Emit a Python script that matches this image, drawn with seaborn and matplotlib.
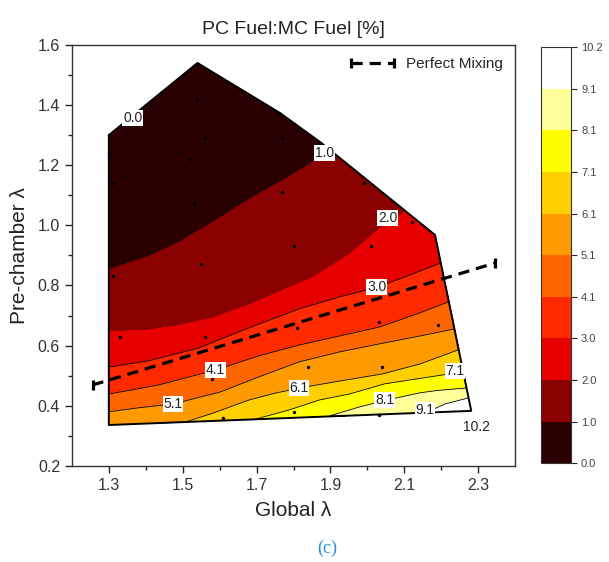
"""
PC Fuel:MC Fuel contour map over global / pre-chamber lambda
"""

import numpy as np
import matplotlib
matplotlib.use("Agg")
import matplotlib.pyplot as plt
import matplotlib.tri as mtri
from matplotlib.colors import ListedColormap, BoundaryNorm
import seaborn as sns

# contour levels and their printed labels
levels = [0.0, 1.0, 2.0, 3.0, 4.1, 5.1, 6.1, 7.1, 8.1, 9.1, 10.2]
level_labels = ["0.0", "1.0", "2.0", "3.0", "4.1", "5.1", "6.1", "7.1", "8.1", "9.1", "10.2"]
band_colors = ["#2b0000", "#8b0000", "#e60000", "#ff2a00", "#ff6600",
               "#ff9a00", "#ffcf00", "#ffff00", "#ffff99", "#ffffff"]

# outline of the measured region (global lambda, pre-chamber lambda, value)
edge_x = [1.30, 1.54, 1.763, 1.872, 2.183, 2.281, 1.30]
edge_y = [1.30, 1.54, 1.374, 1.277, 0.968, 0.383, 0.336]
edge_v = [0.0, 0.1, 0.5, 0.85, 2.45, 10.2, 5.6]

# contour crossings
c1_x = [1.300, 1.406, 1.488, 1.583, 1.679, 1.774, 1.850, 1.905]
c1_y = [0.852, 0.895, 0.942, 1.011, 1.085, 1.151, 1.208, 1.244]
c2_x = [1.300, 1.406, 1.488, 1.583, 1.679, 1.774, 1.850, 1.951, 2.055, 2.104]
c2_y = [0.646, 0.652, 0.666, 0.692, 0.735, 0.785, 0.825, 0.902, 1.011, 1.045]
c3_x = [1.300, 1.406, 1.543, 1.679, 1.815, 1.924, 2.028, 2.115, 2.199]
c3_y = [0.529, 0.549, 0.592, 0.659, 0.722, 0.762, 0.795, 0.835, 0.875]
c4_x = [1.300, 1.434, 1.589, 1.706, 1.815, 1.924, 2.033, 2.142, 2.218]
c4_y = [0.439, 0.469, 0.519, 0.566, 0.602, 0.632, 0.662, 0.709, 0.745]
c5_x = [1.300, 1.379, 1.474, 1.602, 1.706, 1.815, 1.924, 2.033, 2.142, 2.237]
c5_y = [0.380, 0.393, 0.406, 0.446, 0.496, 0.546, 0.579, 0.606, 0.632, 0.656]
c6_x = [1.507, 1.583, 1.679, 1.815, 1.924, 2.041, 2.142, 2.246]
c6_y = [0.346, 0.376, 0.419, 0.459, 0.482, 0.506, 0.539, 0.586]
c7_x = [1.698, 1.788, 1.869, 2.047, 2.169, 2.259]
c7_y = [0.356, 0.386, 0.419, 0.473, 0.496, 0.513]
c8_x = [1.897, 1.978, 2.052, 2.142, 2.267]
c8_y = [0.366, 0.396, 0.419, 0.443, 0.459]
c9_x = [2.156, 2.210, 2.273]
c9_y = [0.376, 0.406, 0.426]

# measurement points (black dots)
dot_x = [1.54, 1.56, 1.52, 1.53, 1.77, 1.99, 1.77, 2.12, 1.30, 1.31, 1.80, 2.01, 1.55,
         1.31, 1.33, 1.56, 1.81, 2.03, 2.19, 1.84, 2.04, 2.22, 1.58, 1.61, 1.80, 2.03]
dot_y = [1.42, 1.29, 1.22, 1.07, 1.29, 1.14, 1.11, 1.01, 1.24, 1.14, 0.93, 0.93, 0.87,
         0.83, 0.63, 0.63, 0.66, 0.68, 0.67, 0.53, 0.53, 0.53, 0.49, 0.36, 0.38, 0.37]

# perfect mixing line
mix_x = [1.256, 2.346]
mix_y = [0.469, 0.875]


def main():
    sns.set_theme(style="ticks")
    plt.rcParams["font.family"] = ["Liberation Sans", "DejaVu Sans"]

    crossings = [(c1_x, c1_y, 1.0), (c2_x, c2_y, 2.0), (c3_x, c3_y, 3.0), (c4_x, c4_y, 4.1),
                 (c5_x, c5_y, 5.1), (c6_x, c6_y, 6.1), (c7_x, c7_y, 7.1), (c8_x, c8_y, 8.1),
                 (c9_x, c9_y, 9.1)]
    px = list(edge_x)
    py = list(edge_y)
    pv = list(edge_v)
    for cx, cy, val in crossings:
        px += cx
        py += cy
        pv += [val] * len(cx)
    triang = mtri.Triangulation(px, py)

    cmap = ListedColormap(sns.color_palette(band_colors))
    norm = BoundaryNorm(levels, cmap.N)

    fig = plt.figure(figsize=(6.09, 5.62), dpi=100)
    ax = fig.add_axes([0.118, 0.171, 0.728, 0.749])
    cax = fig.add_axes([0.888, 0.176, 0.049, 0.740])

    cf = ax.tricontourf(triang, pv, levels=levels, cmap=cmap, norm=norm, zorder=1)
    ax.tricontour(triang, pv, levels=levels[3:-1], colors="black", linewidths=0.6, zorder=2)

    ax.plot(edge_x + [edge_x[0]], edge_y + [edge_y[0]], color="black", lw=1.4, zorder=3)
    sns.scatterplot(x=dot_x, y=dot_y, s=6, color="black", linewidth=0, ax=ax, zorder=4, legend=False)

    sns.lineplot(x=mix_x, y=mix_y, ax=ax, color="black", lw=2.3, dashes=False,
                 marker="|", markersize=7, markeredgewidth=2.3, markeredgecolor="black",
                 label="Perfect Mixing", zorder=5)
    ax.lines[-1].set_dashes((3.5, 2.2))

    # contour labels
    label_pos = [(1.365, 1.357), (1.883, 1.241), (2.055, 1.025), (2.025, 0.795), (1.589, 0.519),
                 (1.474, 0.406), (1.815, 0.459), (2.237, 0.516), (2.047, 0.419), (2.156, 0.386),
                 (2.295, 0.330)]
    for (lx, ly), txt in zip(label_pos, level_labels):
        ax.text(lx, ly, txt, fontsize=10, ha="center", va="center", color="#222222", zorder=6,
                bbox=dict(facecolor="white", edgecolor="none", pad=0.6))

    ax.set_xlim(1.2, 2.4)
    ax.set_ylim(0.2, 1.6)
    ax.set_xticks([1.3, 1.5, 1.7, 1.9, 2.1, 2.3])
    ax.set_xticks([1.4, 1.6, 1.8, 2.0, 2.2], minor=True)
    ax.set_yticks([0.2, 0.4, 0.6, 0.8, 1.0, 1.2, 1.4, 1.6])
    ax.set_yticks([0.3, 0.5, 0.7, 0.9, 1.1, 1.3, 1.5], minor=True)
    ax.yaxis.set_major_formatter(matplotlib.ticker.FormatStrFormatter("%.1f"))
    ax.tick_params(which="major", direction="out", length=5, width=1, labelsize=11.5,
                   labelcolor="#333333", top=False, right=False)
    ax.tick_params(which="minor", direction="out", length=3, width=1, top=False, right=False)
    for sp in ax.spines.values():
        sp.set_visible(True)
        sp.set_color("#333333")
        sp.set_linewidth(1.0)

    ax.set_xlabel("Global λ", fontsize=15, color="#222222", labelpad=6)
    ax.set_ylabel("Pre-chamber λ", fontsize=15, color="#222222", labelpad=6)
    ax.set_title("PC Fuel:MC Fuel [%]", fontsize=14, color="#222222", pad=8)

    ax.legend(loc="upper right", frameon=False, fontsize=11, handlelength=3.4,
              handletextpad=0.5, numpoints=2, borderaxespad=0.4)

    cb = fig.colorbar(cf, cax=cax, ticks=levels)
    cb.ax.set_yticklabels(level_labels)
    cb.ax.tick_params(direction="out", length=4, width=0.8, labelsize=8, labelcolor="#444444")
    cb.outline.set_edgecolor("#333333")
    cb.outline.set_linewidth(0.8)

    fig.text(0.537, 0.025, "(c)", fontsize=13, color="#2a8fd6", ha="center", va="center",
             family="Liberation Serif")

    fig.savefig("out.png", dpi=100)


if __name__ == "__main__":
    main()
